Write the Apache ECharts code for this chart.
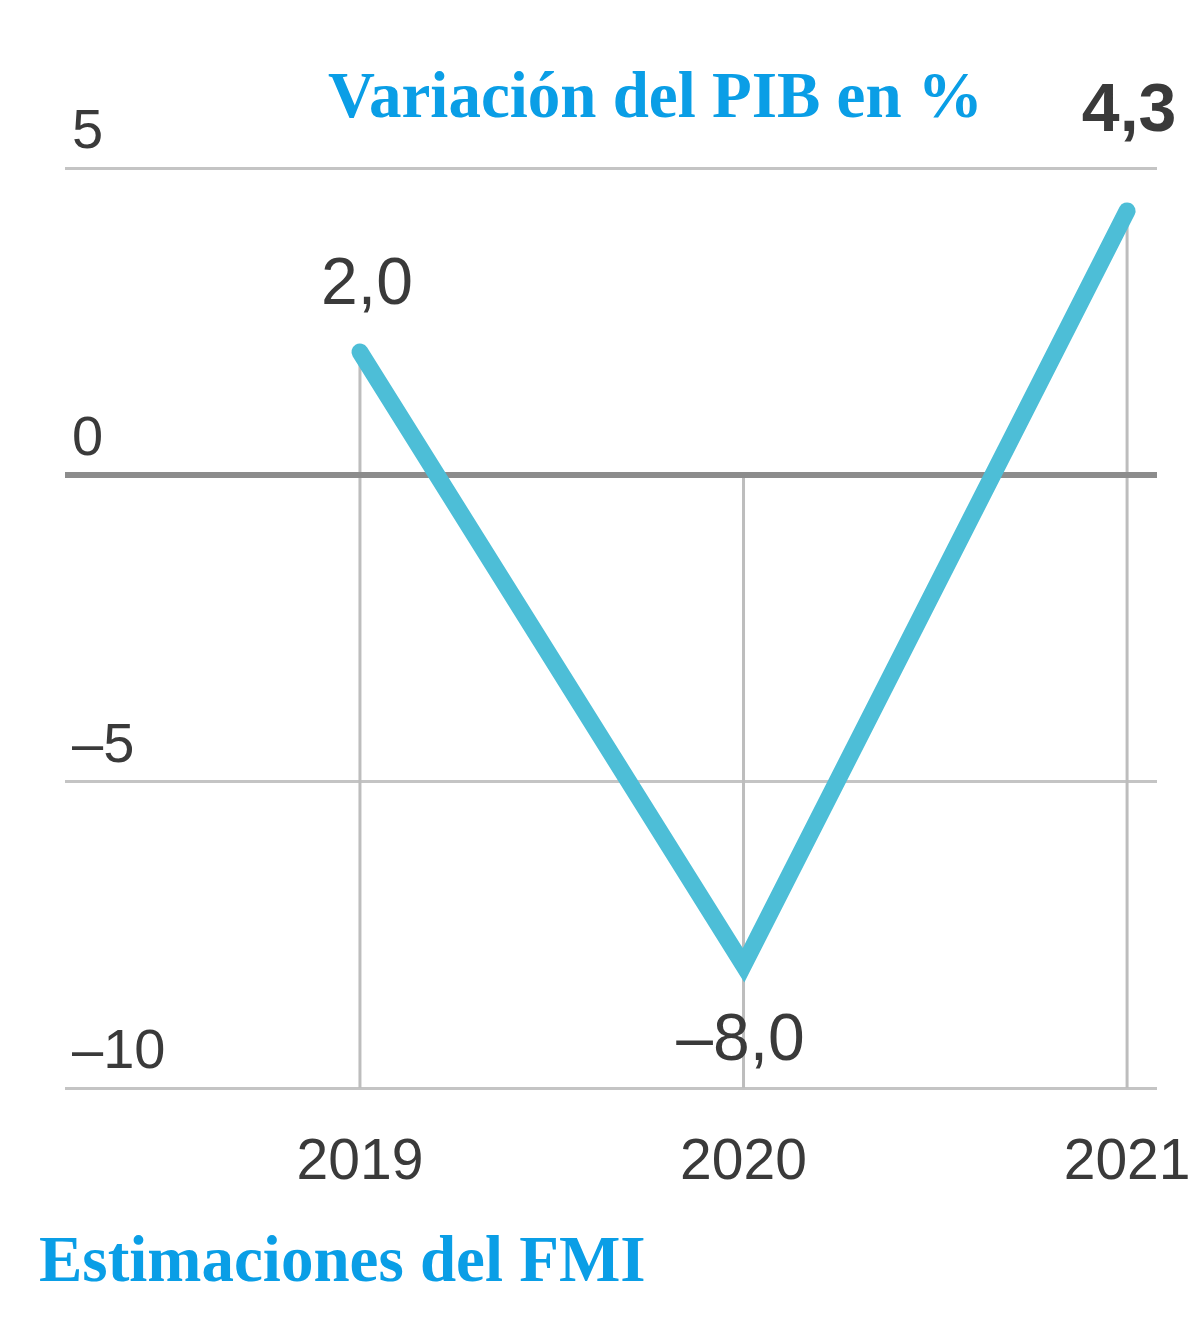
<!DOCTYPE html>
<html>
<head>
<meta charset="utf-8">
<script src="https://cdn.jsdelivr.net/npm/echarts@6/dist/echarts.min.js"></script>
<style>
html,body{margin:0;padding:0;background:#fff;}
#chart{width:1200px;height:1317px;}
</style>
</head>
<body>
<div id="chart"></div>
<script>
// ---- data ----
const years = [2019, 2020, 2021];
const pibVariation = [2.0, -8.0, 4.3];
const yTicks = [-10, -5, 0, 5];
const titleText = 'Variación del PIB en %';
const sourceText = 'Estimaciones del FMI';

const fmt = v => v.toFixed(1).replace('.', ',').replace('-', '\u2013');
const lastIdx = pibVariation.length - 1;
const minIdx = pibVariation.indexOf(Math.min(...pibVariation));

const chart = echarts.init(document.getElementById('chart'));
const labelFont = '"Liberation Sans", Arial, sans-serif';
const serif = '"Liberation Serif", "Times New Roman", serif';

const seriesData = pibVariation.map((v, i) => {
  const d = { value: [years[i], v] };
  if (i === minIdx) {
    d.label = { position: 'bottom', distance: 43, offset: [-3, 0] };
  } else if (i === lastIdx) {
    d.label = { position: 'top', distance: 65, fontWeight: 'bold', fontSize: 68, offset: [2, 0] };
  } else {
    d.label = { position: 'top', distance: 33, offset: [7, 0] };
  }
  return d;
});

chart.setOption({
  animation: false,
  title: [
    { text: titleText, left: 323, top: 63,
      textStyle: { fontFamily: serif, fontWeight: 'bold', fontSize: 65, color: '#0A9EE6' } },
    { text: sourceText, left: 34, top: 1227,
      textStyle: { fontFamily: serif, fontWeight: 'bold', fontSize: 65, color: '#0A9EE6' } }
  ],
  grid: { left: 65, right: 43, top: 168, bottom: 229 },
  xAxis: {
    type: 'value',
    min: 2018.231, max: 2021.078,
    axisLine: { show: false },
    axisTick: { show: false },
    splitLine: { show: false },
    axisLabel: {
      customValues: years,
      formatter: v => String(v),
      fontFamily: labelFont, fontSize: 57, color: '#3a3a3a', margin: 47
    }
  },
  yAxis: {
    type: 'value',
    min: yTicks[0], max: yTicks[yTicks.length - 1], interval: 5,
    axisLine: { show: false },
    axisTick: { show: false },
    splitLine: { show: true, lineStyle: { color: '#c4c4c4', width: 3 } },
    axisLabel: {
      inside: true, margin: 7, align: 'left', verticalAlign: 'bottom',
      lineHeight: 56, padding: [0, 0, 7, 0],
      formatter: v => String(v).replace('-', '\u2013'),
      fontFamily: labelFont, fontSize: 56, color: '#3a3a3a'
    }
  },
  series: [
    {
      type: 'custom',
      silent: true,
      data: pibVariation.map((v, i) => [years[i], v]),
      renderItem: (params, api) => {
        const x = api.value(0), v = api.value(1);
        const p1 = api.coord([x, Math.max(v, 0)]);
        const p2 = api.coord([x, yTicks[0]]);
        return { type: 'line', shape: { x1: p1[0], y1: p1[1], x2: p2[0], y2: p2[1] },
                 style: { stroke: '#bdbdbd', lineWidth: 3 } };
      },
      z: 1
    },
    {
      type: 'line',
      data: seriesData,
      symbol: 'circle',
      symbolSize: 1,
      showSymbol: true,
      itemStyle: { color: 'rgba(0,0,0,0)' },
      lineStyle: { color: '#4DBED7', width: 17, cap: 'round', join: 'miter', miterLimit: 20 },
      label: {
        show: true,
        formatter: p => fmt(p.value[1]),
        fontFamily: labelFont, fontSize: 66, color: '#3a3a3a', lineHeight: 66
      },
      markLine: {
        silent: true, symbol: 'none', label: { show: false },
        lineStyle: { color: '#8c8c8c', width: 6, type: 'solid' },
        data: [{ yAxis: 0 }],
        z: 2
      },
      z: 3
    }
  ]
});
</script>
</body>
</html>
